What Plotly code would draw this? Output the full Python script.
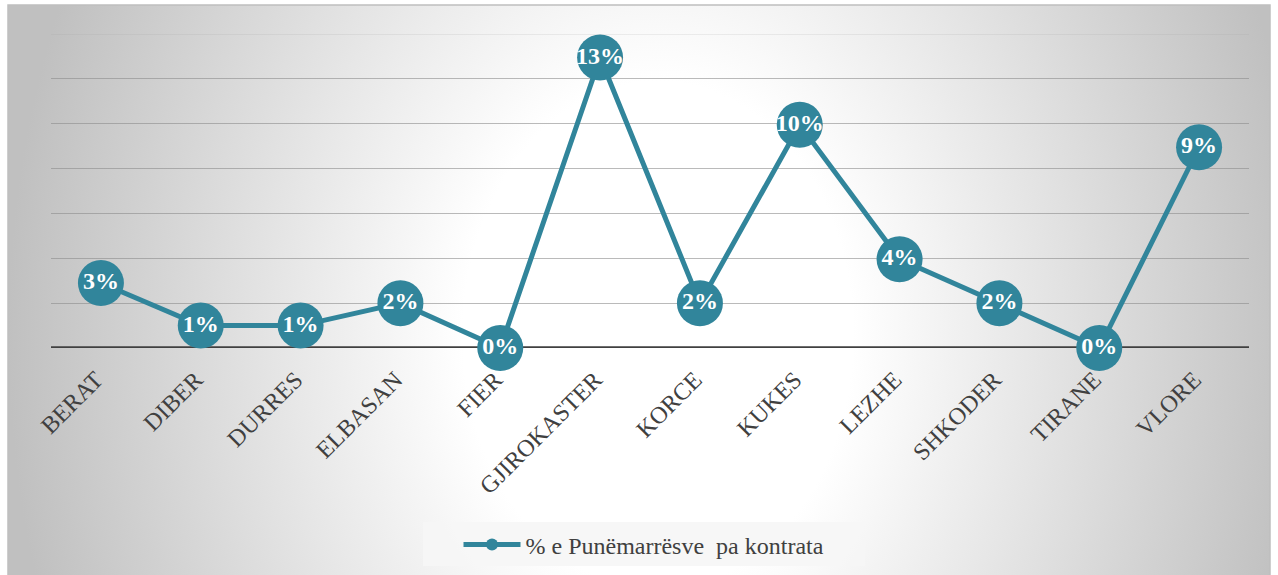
import base64
import plotly.graph_objects as go

categories = ["BERAT", "DIBER", "DURRES", "ELBASAN", "FIER", "GJIROKASTER",
              "KORCE", "KUKES", "LEZHE", "SHKODER", "TIRANE", "VLORE"]
values = [2.9, 1.0, 1.0, 2.0, 0.0, 12.95, 2.0, 9.95, 3.96, 2.0, 0.0, 8.95]
series_name = "% e Punëmarrësve  pa kontrata"

W, H = 1278, 575
L, R, T, B = 51, 1249, 34, 348  # plot area in pixels

def px(x):
    return (x - L) / (R - L)

def py(y):
    return (B - y) / (B - T)

teal = "#31859B"
SERIF = "Liberation Serif, Times New Roman, serif"

svg = '''<svg xmlns="http://www.w3.org/2000/svg" width="1262" height="570" viewBox="0 0 1262 570">
<defs><radialGradient id="g" gradientUnits="userSpaceOnUse" cx="650" cy="330" r="650"
 gradientTransform="translate(650,330) scale(1,1.3) translate(-650,-330)">
<stop offset="0" stop-color="#ffffff"/><stop offset="0.3" stop-color="#ffffff"/>
<stop offset="1" stop-color="#c0c0c0"/></radialGradient></defs>
<rect x="0" y="0" width="1262" height="570" fill="url(#g)"/></svg>'''
src = "data:image/svg+xml;base64," + base64.b64encode(svg.encode()).decode()

fig = go.Figure()
fig.add_trace(go.Scatter(
    x=categories, y=values, name=series_name,
    mode="lines+markers+text",
    line=dict(color=teal, width=5),
    marker=dict(color=teal, size=46),
    text=[f"{v:.0f}%" for v in values],
    textposition="middle center",
    textfont=dict(family=SERIF, size=24, color="white", weight="bold"),
    cliponaxis=False,
))

fig.update_layout(
    width=W, height=H,
    margin=dict(l=L, r=W - R, t=T, b=H - B, autoexpand=False),
    paper_bgcolor="white",
    plot_bgcolor="rgba(0,0,0,0)",
    showlegend=True,
    legend=dict(orientation="h", x=px(644), y=py(545), xanchor="center", yanchor="middle",
                font=dict(family=SERIF, size=24, color="#404040"),
                bgcolor="rgba(0,0,0,0)", itemsizing="constant", itemwidth=57),
    images=[dict(source=src, xref="paper", yref="paper", x=px(8), y=py(5),
                 sizex=px(1270) - px(8), sizey=py(5) - py(575), sizing="stretch",
                 layer="below", xanchor="left", yanchor="top")],
    shapes=[
        dict(type="rect", xref="paper", yref="paper", x0=px(8), x1=px(1270), y0=py(576), y1=py(5),
             line=dict(color="#bfbfbf", width=1.5), fillcolor="rgba(0,0,0,0)", layer="below"),
        dict(type="rect", xref="paper", yref="paper", x0=px(423), x1=px(865), y0=py(566), y1=py(522),
             line=dict(width=0), fillcolor="rgba(246,246,246,0.9)", layer="below"),
        dict(type="line", xref="paper", yref="y", x0=0, x1=1, y0=14, y1=14,
             line=dict(color="rgba(160,160,160,0.35)", width=1), layer="below"),
        dict(type="line", xref="paper", yref="y", x0=0, x1=1, y0=0, y1=0,
             line=dict(color="#404040", width=3.5), layer="below"),
    ],
    xaxis=dict(type="category", tickangle=-45, showgrid=False, showline=False, zeroline=False,
               ticks="", tickfont=dict(family=SERIF, size=24, color="#404040"),
               range=[-0.5, 11.5], automargin=False, ticklabelstandoff=12, ticklabelshift=-5),
    yaxis=dict(range=[0, 14], tickvals=[2, 4, 6, 8, 10, 12], showticklabels=False,
               gridcolor="rgba(140,140,140,0.6)", gridwidth=1, zeroline=False, showline=False,
               automargin=False),
)

fig.write_html("out.html", config={"displayModeBar": False},
               post_script="document.body.style.margin='0';document.body.style.overflow='hidden';")
